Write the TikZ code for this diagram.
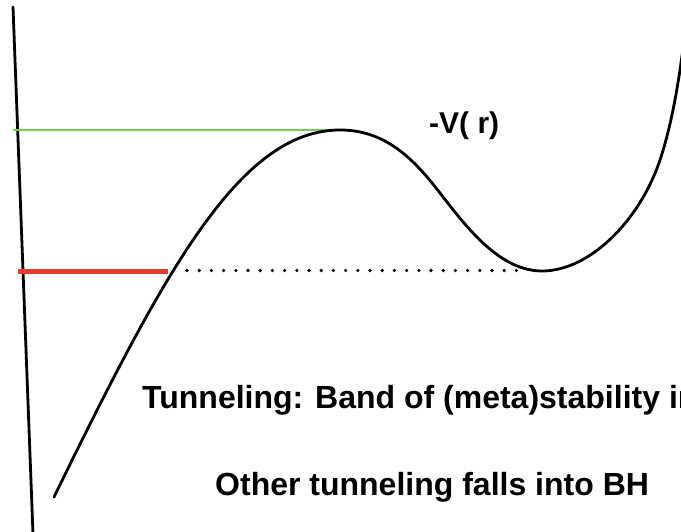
\documentclass[tikz,border=0pt]{standalone}
\usepackage{fontspec}
\setmainfont{Liberation Sans}
\begin{document}
\begin{tikzpicture}[x=1pt,y=-1pt,
  curve/.style={line width=2.8pt,line cap=round,line join=round},
  greenlvl/.style={line width=2.4pt,draw={rgb,255:red,120;green,200;blue,85}},
  redlvl/.style={line width=5pt,draw={rgb,255:red,225;green,60;blue,45}},
  dotlvl/.style={line width=3.6pt,line cap=round,dash pattern=on 0pt off 12.2pt},
  lbl/.style={inner sep=0pt,anchor=base west,font=\bfseries\fontsize{32}{38}\selectfont}]
\useasboundingbox (0,0) rectangle (681,532);
\clip (0,0) rectangle (681,532);
\fill[white] (0,0) rectangle (681,532);
% axis
\coordinate (axtop) at (13,7);
\coordinate (axbot) at (33,534);
\draw[curve] (axtop) -- (axbot);
% levels
\coordinate (g1) at (13,130);
\coordinate (g2) at (340,130);
\draw[greenlvl] (g1) -- (g2);
\coordinate (r1) at (18,272);
\coordinate (r2) at (168,272);
\draw[redlvl] (r1) -- (r2);
\coordinate (d1) at (187,270.5);
\coordinate (d2) at (522,270.5);
\draw[dotlvl] (d1) -- (d2);
% potential curve
\coordinate (c0) at (54,497);
\coordinate (peak) at (340,130);
\coordinate (infl) at (440,193);
\coordinate (well) at (542,271);
\coordinate (c4) at (660,160);
\coordinate (c5) at (684,40);
\draw[curve] (c0) .. controls (165,270) and (240,130) .. (peak)
  .. controls (385,130) and (413,158) .. (infl)
  .. controls (467,228) and (500,271) .. (well)
  .. controls (590,271) and (640,220) .. (c4)
  .. controls (670,130) and (678,90) .. (c5);
% labels
\node[lbl,font=\bfseries\fontsize{30}{36}\selectfont] (vr) at (429,134) {-V( r)};
\node[lbl] (t1) at (142,408) {Tunneling: Band of (meta)stability in};
\node[lbl] (t2) at (215,495) {Other tunneling falls into BH};
\end{tikzpicture}
\end{document}
